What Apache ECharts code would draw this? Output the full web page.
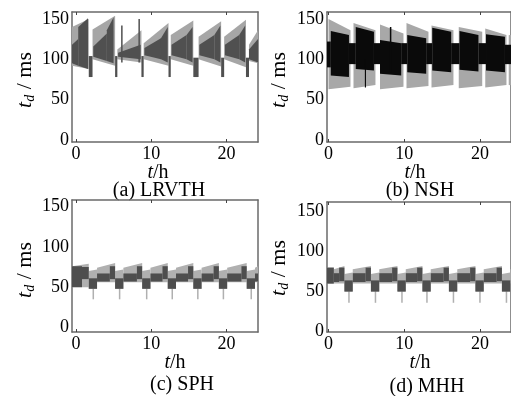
<!DOCTYPE html>
<html><head><meta charset="utf-8">
<script src="https://cdn.jsdelivr.net/npm/echarts@6/dist/echarts.min.js"></script>
<style>html,body{margin:0;padding:0;background:#fff}#c{width:511px;height:396px}</style>
</head><body><div id="c"></div>
<script>
const xTicks = [0, 10, 20];
const yTicks = [0, 50, 100, 150];
const captions = ['(a) LRVTH', '(b) NSH', '(c) SPH', '(d) MHH'];

// each segment: [t0, t1, low0, low1, high0, high1]  (t in h, values in ms)
const lightA = [
  [-0.53, 1.7, 92, 88, 140, 150],
  [2.2, 5.2, 100, 92, 137, 154],
  [5.5, 8.7, 100, 96, 112, 136],
  [9.0, 12.3, 100, 92, 120, 145],
  [12.6, 15.6, 100, 92, 130, 148],
  [16.3, 19.3, 100, 91, 128, 147],
  [19.7, 22.6, 100, 90, 128, 149],
  [23.0, 24.2, 98, 95, 118, 136]
];
const darkA = [
  [-0.53, 0.3, 95, 92, 118, 125],
  [0.3, 1.6, 92, 88, 140, 151],
  [1.7, 2.2, 78, 78, 104, 104],
  [2.3, 4.1, 103, 98, 116, 132],
  [4.1, 5.0, 98, 95, 136, 152],
  [5.2, 5.5, 78, 78, 104, 104],
  [5.6, 8.6, 103, 100, 108, 118],
  [6.0, 6.2, 96, 96, 142, 142],
  [8.3, 8.5, 96, 96, 150, 150],
  [8.7, 9.0, 78, 78, 104, 104],
  [9.1, 11.3, 105, 100, 114, 126],
  [11.3, 12.2, 100, 96, 126, 140],
  [12.3, 12.6, 78, 78, 104, 104],
  [12.7, 14.7, 105, 100, 118, 130],
  [14.7, 15.5, 100, 96, 130, 140],
  [15.6, 16.3, 78, 78, 102, 102],
  [16.4, 18.4, 105, 100, 118, 130],
  [18.4, 19.2, 100, 96, 130, 142],
  [19.3, 19.7, 78, 78, 102, 102],
  [19.8, 21.7, 105, 100, 118, 130],
  [21.7, 22.5, 100, 96, 130, 142],
  [22.6, 23.0, 78, 78, 102, 102],
  [23.0, 24.2, 100, 96, 112, 125]
];
const lightB = [
  [0.0, 2.9, 63, 66, 150, 136],
  [3.3, 6.2, 64, 68, 145, 136],
  [6.8, 9.9, 63, 66, 143, 132],
  [10.3, 13.2, 64, 67, 145, 134],
  [13.6, 16.5, 65, 68, 142, 136],
  [17.2, 20.3, 64, 67, 140, 134],
  [20.7, 23.5, 65, 68, 138, 130],
  [23.8, 24.1, 68, 68, 130, 130]
];
const darkB = [
  [-0.2, 0.3, 90, 90, 122, 122],
  [0.3, 2.7, 80, 78, 135, 130],
  [2.7, 3.6, 94, 94, 120, 120],
  [3.6, 6.0, 88, 86, 140, 134],
  [4.8, 4.95, 65, 65, 100, 100],
  [6.0, 6.8, 94, 94, 120, 120],
  [6.8, 9.6, 82, 80, 124, 120],
  [8.1, 8.3, 84, 84, 140, 140],
  [9.6, 10.4, 94, 94, 120, 120],
  [10.4, 12.9, 84, 82, 130, 126],
  [12.9, 13.7, 94, 94, 120, 120],
  [13.7, 16.2, 86, 84, 139, 134],
  [16.2, 17.3, 94, 94, 120, 120],
  [17.3, 19.8, 87, 85, 135, 130],
  [19.8, 20.8, 94, 94, 120, 120],
  [20.8, 23.3, 86, 84, 131, 128],
  [23.3, 24.1, 94, 94, 118, 118]
];
const lightC = [
  [-0.53, 1.7, 50, 50, 76, 79],
  [1.7, 2.8, 48, 48, 70, 72],
  [2.2, 2.4, 35, 35, 50, 50],
  [2.8, 5.2, 56, 56, 74, 80],
  [5.2, 6.3, 48, 48, 70, 72],
  [5.7, 5.9, 35, 35, 50, 50],
  [6.3, 8.8, 56, 56, 74, 80],
  [8.8, 9.9, 48, 48, 70, 72],
  [9.3, 9.5, 35, 35, 50, 50],
  [9.9, 12.2, 56, 56, 74, 80],
  [12.2, 13.3, 48, 48, 70, 72],
  [12.7, 12.9, 35, 35, 50, 50],
  [13.3, 15.6, 56, 56, 74, 80],
  [15.6, 16.7, 48, 48, 70, 72],
  [16.1, 16.3, 35, 35, 50, 50],
  [16.7, 19.0, 56, 56, 74, 80],
  [19.0, 20.1, 48, 48, 70, 72],
  [19.5, 19.7, 35, 35, 50, 50],
  [20.1, 22.7, 56, 56, 74, 80],
  [22.7, 23.8, 48, 48, 70, 72],
  [23.2, 23.4, 35, 35, 50, 50],
  [23.8, 24.2, 56, 56, 74, 76]
];
const darkC = [
  [-0.53, 0.8, 50, 50, 76, 76],
  [0.8, 1.7, 60, 60, 75, 75],
  [1.7, 2.8, 48, 48, 61, 61],
  [2.8, 4.5, 57, 57, 67, 67],
  [4.5, 5.2, 60, 60, 76, 76],
  [5.2, 6.3, 48, 48, 61, 61],
  [6.3, 8.1, 57, 57, 67, 67],
  [8.1, 8.8, 60, 60, 76, 76],
  [8.8, 9.9, 48, 48, 61, 61],
  [9.9, 11.5, 57, 57, 67, 67],
  [11.5, 12.2, 60, 60, 76, 76],
  [12.2, 13.3, 48, 48, 61, 61],
  [13.3, 14.9, 57, 57, 67, 67],
  [14.9, 15.6, 60, 60, 76, 76],
  [15.6, 16.7, 48, 48, 61, 61],
  [16.7, 18.3, 57, 57, 67, 67],
  [18.3, 19.0, 60, 60, 76, 76],
  [19.0, 20.1, 48, 48, 61, 61],
  [20.1, 22.0, 57, 57, 67, 67],
  [22.0, 22.7, 60, 60, 76, 76],
  [22.7, 23.8, 48, 48, 61, 61],
  [23.8, 24.2, 57, 57, 67, 67]
];
const lightD = [
  [-0.2, 0.7, 60, 60, 80, 80],
  [0.7, 2.1, 60, 60, 78, 82],
  [2.1, 3.2, 50, 50, 72, 74],
  [2.6, 2.8, 36, 36, 52, 52],
  [3.2, 5.6, 60, 60, 78, 82],
  [5.6, 6.7, 50, 50, 72, 74],
  [6.1, 6.3, 36, 36, 52, 52],
  [6.7, 9.1, 60, 60, 78, 82],
  [9.1, 10.2, 50, 50, 72, 74],
  [9.6, 9.8, 36, 36, 52, 52],
  [10.2, 12.4, 60, 60, 78, 82],
  [12.4, 13.5, 50, 50, 72, 74],
  [12.9, 13.1, 36, 36, 52, 52],
  [13.5, 15.9, 60, 60, 78, 82],
  [15.9, 17.0, 50, 50, 72, 74],
  [16.4, 16.6, 36, 36, 52, 52],
  [17.0, 19.4, 60, 60, 78, 82],
  [19.4, 20.5, 50, 50, 72, 74],
  [19.9, 20.1, 36, 36, 52, 52],
  [20.5, 22.9, 60, 60, 78, 82],
  [22.9, 24.0, 50, 50, 72, 74],
  [23.4, 23.6, 36, 36, 52, 52],
  [24.0, 24.1, 60, 60, 78, 78]
];
const darkD = [
  [-0.2, 0.7, 60, 60, 80, 80],
  [0.7, 1.4, 62, 62, 73, 73],
  [1.4, 2.1, 63, 63, 80, 80],
  [2.1, 3.2, 50, 50, 64, 64],
  [3.2, 4.9, 62, 62, 73, 73],
  [4.9, 5.6, 63, 63, 80, 80],
  [5.6, 6.7, 50, 50, 64, 64],
  [6.7, 8.4, 62, 62, 73, 73],
  [8.4, 9.1, 63, 63, 80, 80],
  [9.1, 10.2, 50, 50, 64, 64],
  [10.2, 11.7, 62, 62, 73, 73],
  [11.7, 12.4, 63, 63, 80, 80],
  [12.4, 13.5, 50, 50, 64, 64],
  [13.5, 15.2, 62, 62, 73, 73],
  [15.2, 15.9, 63, 63, 80, 80],
  [15.9, 17.0, 50, 50, 64, 64],
  [17.0, 18.7, 62, 62, 73, 73],
  [18.7, 19.4, 63, 63, 80, 80],
  [19.4, 20.5, 50, 50, 64, 64],
  [20.5, 22.2, 62, 62, 73, 73],
  [22.2, 22.9, 63, 63, 80, 80],
  [22.9, 24.0, 50, 50, 64, 64]
];

const panels = [
  {light: lightA, dark: darkA},
  {light: lightB, dark: darkB},
  {light: lightC, dark: darkC},
  {light: lightD, dark: darkD}
];

const lightFills = ['#a6a6a6', '#a8a8a8', '#b0b0b0', '#b0b0b0'];
const darkFills = ['#505050', '#0a0a0a', '#4e4e4e', '#4e4e4e'];

const geo = [
  {left: 72, top: 12, height: 130, xmin: -0.53, xmax: 24.2, ymin: -2.5, ymax: 158.6},
  {left: 327, top: 12, height: 130, xmin: -0.2, xmax: 24.1, ymin: -2.5, ymax: 158.6},
  {left: 72, top: 200, height: 132, xmin: -0.53, xmax: 24.2, ymin: -5.5, ymax: 158},
  {left: 327, top: 202, height: 130, xmin: -0.2, xmax: 24.1, ymin: -0.5, ymax: 162}
];
const FONT = 'Liberation Serif';
const grid = [], xAxis = [], yAxis = [], series = [];
geo.forEach((g, i) => {
  grid.push({left: g.left, top: g.top, width: 186, height: g.height, show: false});
  const axLine = {show: true, onZero: false, lineStyle: {color: '#6a6a6a', width: 1.5}};
  const tick = {show: true, inside: true, length: 3, lineStyle: {color: '#444'}};
  xAxis.push({type: 'value', gridIndex: i, min: g.xmin, max: g.xmax, position: 'bottom',
    axisLine: axLine, splitLine: {show: false},
    axisTick: Object.assign({}, tick, {customValues: xTicks}),
    axisLabel: {customValues: xTicks, fontFamily: FONT, fontSize: 18, color: '#000', margin: 3}});
  xAxis.push({type: 'value', gridIndex: i, min: g.xmin, max: g.xmax, position: 'top',
    axisLine: axLine, splitLine: {show: false},
    axisTick: Object.assign({}, tick, {customValues: xTicks}),
    axisLabel: {show: false}});
  yAxis.push({type: 'value', gridIndex: i, min: g.ymin, max: g.ymax, position: 'left',
    axisLine: axLine, splitLine: {show: false},
    axisTick: {show: false},
    axisLabel: {customValues: yTicks, fontFamily: FONT, fontSize: 18, color: '#000', margin: 3}});
  yAxis.push({type: 'value', gridIndex: i, min: g.ymin, max: g.ymax, position: 'right',
    axisLine: axLine, splitLine: {show: false}, axisTick: {show: false}, axisLabel: {show: false}});
  const mk = (data, fill) => ({
    type: 'custom', xAxisIndex: 2 * i, yAxisIndex: 2 * i, clip: true, silent: true,
    data: data,
    encode: {x: [0, 1], y: [2, 3, 4, 5]},
    renderItem: (params, api) => {
      const t0 = api.value(0), t1 = api.value(1);
      const pts = [api.coord([t0, api.value(2)]), api.coord([t1, api.value(3)]),
                   api.coord([t1, api.value(5)]), api.coord([t0, api.value(4)])];
      return {type: 'polygon', shape: {points: pts}, style: {fill: fill}};
    }
  });
  series.push(mk(panels[i].light, lightFills[i]));
  series.push(mk(panels[i].dark, darkFills[i]));
});

const yNamePos = [[25, 80], [279, 80], [25, 270], [279, 268]];
const tPos = [[158, 173], [415, 173], [175, 363], [420, 363]];
const capPos = [[159, 191], [420, 191], [182, 385], [427, 387]];
const rich = {
  i: {fontFamily: FONT, fontSize: 22, fontStyle: 'italic', lineHeight: 24},
  s: {fontFamily: FONT, fontSize: 14, fontStyle: 'italic', lineHeight: 24, padding: [10, 0, 0, 0]},
  n: {fontFamily: FONT, fontSize: 22, lineHeight: 24}
};
const richT = {
  i: {fontFamily: FONT, fontSize: 20, fontStyle: 'italic', lineHeight: 22},
  n: {fontFamily: FONT, fontSize: 20, lineHeight: 22}
};
const graphic = [];
for (let i = 0; i < 4; i++) {
  graphic.push({type: 'text', x: yNamePos[i][0], y: yNamePos[i][1], rotation: Math.PI / 2,
    style: {text: '{i|t}{s|d}{n| / ms}', rich: rich, align: 'center', verticalAlign: 'middle', fill: '#000'}});
  graphic.push({type: 'text', x: tPos[i][0], y: tPos[i][1],
    style: {text: '{i|t}{n|/h}', rich: richT, align: 'center', verticalAlign: 'middle', fill: '#000'}});
  graphic.push({type: 'text', x: capPos[i][0], y: capPos[i][1],
    style: {text: captions[i], fontFamily: FONT, fontSize: 20, align: 'center', verticalAlign: 'middle', fill: '#000'}});
}

const chart = echarts.init(document.getElementById('c'), null, {renderer: 'canvas'});
chart.setOption({animation: false, backgroundColor: '#fff', grid, xAxis, yAxis, series, graphic});
</script>
</body></html>
